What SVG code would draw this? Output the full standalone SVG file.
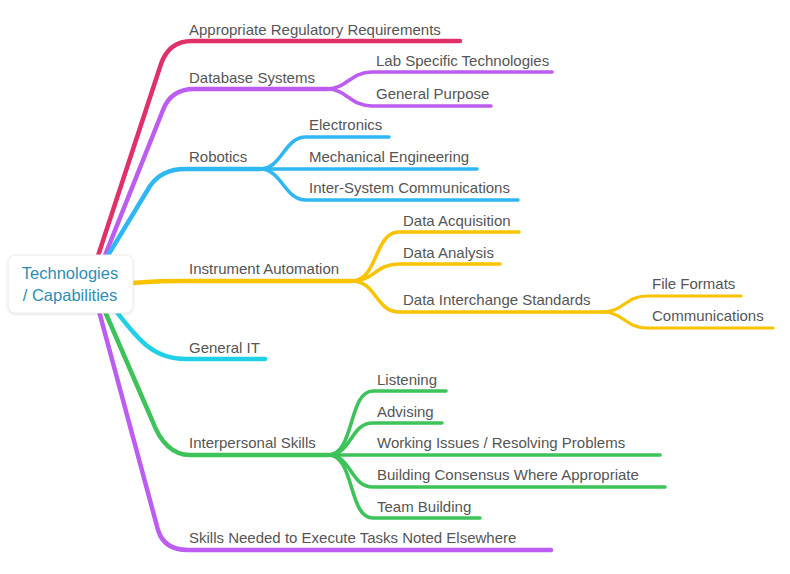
<svg xmlns="http://www.w3.org/2000/svg" width="790" height="574" viewBox="0 0 790 574">
<style>
.c{fill:none;stroke-linecap:round;stroke-linejoin:round}
.l1{stroke-width:4.5}
.l2{stroke-width:3.6}
.l3{stroke-width:3.2}
.red{stroke:#df3167}
.pur{stroke:#bd5cf0}
.blu{stroke:#2fb7f4}
.yel{stroke:#f8c300}
.cya{stroke:#20d0e6}
.grn{stroke:#3ec25a}
.t{font-family:"Liberation Sans",Arial,sans-serif;font-size:15px;fill:#555555}
.root{font-family:"Liberation Sans",Arial,sans-serif;font-size:16.5px;fill:#2e8db5;text-anchor:middle}
</style>
<defs>
<filter id="sh" x="-10%" y="-10%" width="120%" height="130%">
<feDropShadow dx="0" dy="1" stdDeviation="1.2" flood-color="#000" flood-opacity="0.12"/>
</filter>
</defs>
<rect width="790" height="574" fill="#ffffff"/>
<g id="connectors">
<path class="c l1 red" d="M96,262 L161,64 Q169,41 192,41 H460"/>
<path class="c l1 pur" d="M100,268 L163,110 Q171,89 194,89 H327"/>
<path class="c l1 blu" d="M104,262 L150,186 Q162,169 185,169 H260"/>
<path class="c l1 yel" d="M110,284 C140,283 150,281 180,281 H352"/>
<path class="c l1 cya" d="M112,306 C135,335 150,359 185,359 H265"/>
<path class="c l1 grn" d="M100,300 L152,420 Q165,455 190,455 H328"/>
<path class="c l1 pur" d="M96,300 L158,530 Q164,550 188,550 H551"/>
<path class="c l2 pur" d="M327,89 C347,89 350,72 372,72 H552"/>
<path class="c l2 pur" d="M327,89 C347,89 350,106 372,106 H491"/>
<path class="c l2 blu" d="M260,169 C282,169 284,137 306,137 H389"/>
<path class="c l2 blu" d="M260,169 H477"/>
<path class="c l2 blu" d="M260,169 C282,169 284,200 306,200 H518"/>
<path class="c l2 yel" d="M352,281 C378,281 374,232 399,232 H519"/>
<path class="c l2 yel" d="M352,281 C374,281 376,264 399,264 H500"/>
<path class="c l2 yel" d="M352,281 C376,281 376,312 399,312 H602"/>
<path class="c l3 yel" d="M602,312 C624,312 625,296 647,296 H741"/>
<path class="c l3 yel" d="M602,312 C624,312 625,328 647,328 H773"/>
<path class="c l2 grn" d="M328,455 C355,455 348,391 373,391 H446"/>
<path class="c l2 grn" d="M328,455 C352,455 350,423 373,423 H442"/>
<path class="c l2 grn" d="M328,455 H660"/>
<path class="c l2 grn" d="M328,455 C352,455 350,487 373,487 H665"/>
<path class="c l2 grn" d="M328,455 C355,455 348,518 373,518 H480"/>
</g>
<g id="root">
<rect x="8" y="255" width="125" height="58" rx="7" fill="#ffffff" stroke="#ececec" stroke-width="1" filter="url(#sh)"/>
<text class="root" x="70" y="279">Technologies</text>
<text class="root" x="70" y="301">/ Capabilities</text>
</g>
<g id="n-regulatory"><text class="t" x="189" y="35">Appropriate Regulatory Requirements</text></g>
<g id="n-database"><text class="t" x="189" y="83">Database Systems</text></g>
<g id="n-lab"><text class="t" x="376" y="66">Lab Specific Technologies</text></g>
<g id="n-general-purpose"><text class="t" x="376" y="99">General Purpose</text></g>
<g id="n-robotics"><text class="t" x="189" y="162">Robotics</text></g>
<g id="n-electronics"><text class="t" x="309" y="130">Electronics</text></g>
<g id="n-mechanical"><text class="t" x="309" y="162">Mechanical Engineering</text></g>
<g id="n-intersystem"><text class="t" x="309" y="193">Inter-System Communications</text></g>
<g id="n-instrument"><text class="t" x="189" y="274">Instrument Automation</text></g>
<g id="n-acquisition"><text class="t" x="403" y="226">Data Acquisition</text></g>
<g id="n-analysis"><text class="t" x="403" y="258">Data Analysis</text></g>
<g id="n-interchange"><text class="t" x="403" y="305">Data Interchange Standards</text></g>
<g id="n-fileformats"><text class="t" x="652" y="289">File Formats</text></g>
<g id="n-communications"><text class="t" x="652" y="321">Communications</text></g>
<g id="n-generalit"><text class="t" x="189" y="353">General IT</text></g>
<g id="n-interpersonal"><text class="t" x="189" y="448">Interpersonal Skills</text></g>
<g id="n-listening"><text class="t" x="377" y="385">Listening</text></g>
<g id="n-advising"><text class="t" x="377" y="417">Advising</text></g>
<g id="n-working"><text class="t" x="377" y="448">Working Issues / Resolving Problems</text></g>
<g id="n-consensus"><text class="t" x="377" y="480">Building Consensus Where Appropriate</text></g>
<g id="n-team"><text class="t" x="377" y="512">Team Building</text></g>
<g id="n-skills"><text class="t" x="189" y="543">Skills Needed to Execute Tasks Noted Elsewhere</text></g>
</svg>
